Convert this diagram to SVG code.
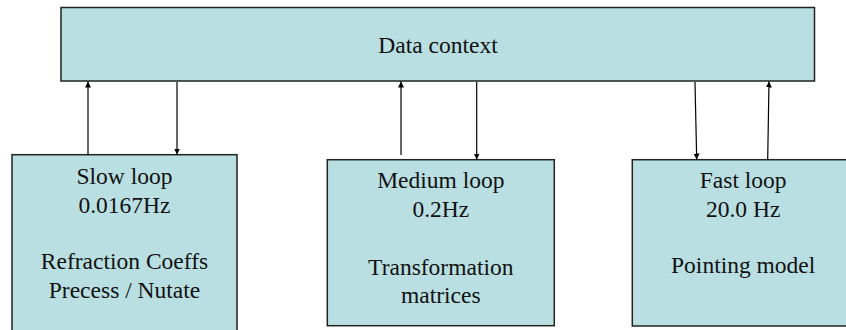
<svg xmlns="http://www.w3.org/2000/svg" width="846" height="330" viewBox="0 0 846 330">
<style>
.box{fill:#B9DFE2;stroke:#222;stroke-width:1.5}
.t{font-family:'Liberation Serif','Times New Roman','DejaVu Serif',Times,serif;font-size:23.5px;fill:#111;text-anchor:middle}
.c{stroke:#000;stroke-width:1.2;fill:none;marker-end:url(#ah)}
</style>
<defs>
<marker id="ah" viewBox="0 0 10 10" refX="10" refY="5" markerWidth="6" markerHeight="6" markerUnits="userSpaceOnUse" orient="auto">
<path d="M0,0 L10,5 L0,10 z" fill="#000"/>
</marker>
</defs>
<rect x="0" y="0" width="846" height="330" fill="#fff"/>
<g id="data-context">
<rect class="box" x="61" y="7.5" width="753.5" height="73.5"/>
<text class="t" font-family="Liberation Serif, serif" x="438" y="53">Data context</text>
</g>
<g id="slow-loop">
<rect class="box" x="12" y="154.7" width="225" height="180"/>
<text class="t" x="124.5" y="184.3">Slow loop</text>
<text class="t" x="124.5" y="212.7">0.0167Hz</text>
<text class="t" x="124.5" y="269.3">Refraction Coeffs</text>
<text class="t" x="124.5" y="298">Precess / Nutate</text>
</g>
<g id="medium-loop">
<rect class="box" x="327.3" y="159.7" width="227" height="166"/>
<text class="t" x="440.8" y="188.3">Medium loop</text>
<text class="t" x="440.8" y="216.7">0.2Hz</text>
<text class="t" x="440.8" y="275">Transformation</text>
<text class="t" x="440.8" y="302.7">matrices</text>
</g>
<g id="fast-loop">
<rect class="box" x="632.3" y="159.7" width="222" height="166.3"/>
<text class="t" x="743.2" y="188.3">Fast loop</text>
<text class="t" x="743.2" y="216.7">20.0 Hz</text>
<text class="t" x="743.2" y="273.3">Pointing model</text>
</g>
<g id="connectors">
<line class="c" x1="88" y1="154.7" x2="88" y2="81.5"/>
<line class="c" x1="177" y1="82" x2="177" y2="154.5"/>
<line class="c" x1="401" y1="155" x2="401" y2="81.5"/>
<line class="c" x1="476.7" y1="82" x2="476.7" y2="159.5"/>
<line class="c" x1="695" y1="82" x2="696.7" y2="159.5"/>
<line class="c" x1="767.7" y1="159.7" x2="769" y2="81.5"/>
</g>
</svg>
